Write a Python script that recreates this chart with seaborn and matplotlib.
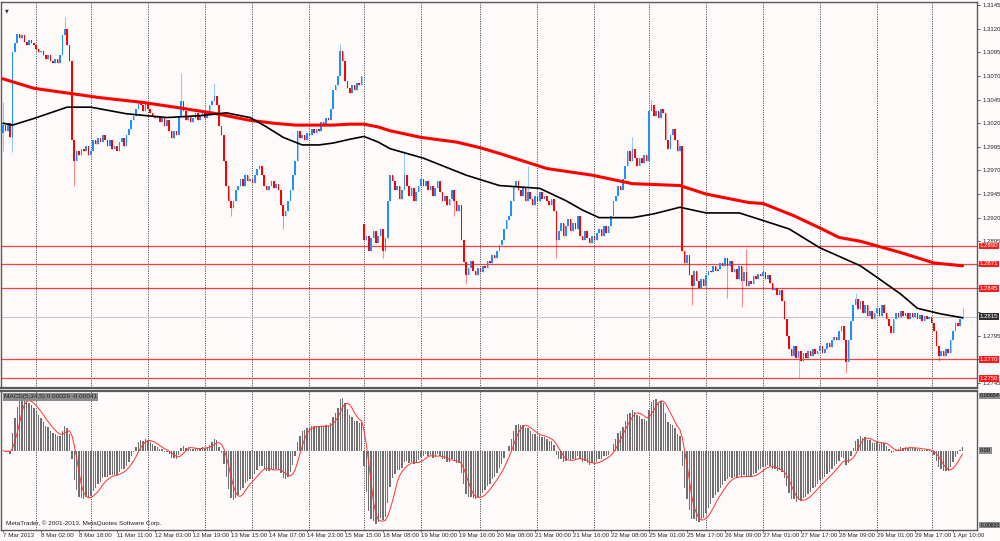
import numpy as np
import pandas as pd
import matplotlib
matplotlib.use("Agg")
import matplotlib.pyplot as plt
import seaborn as sns

# EURUSD H1, closes in pips above BASE (1.2700), one value per bar
BASE = 1.27
CLOSES = [
    318, 312, 320, 305, 395, 405, 415, 410, 413, 406, 403, 408, 405, 403, 399, 395,
    397, 392, 388, 392, 386, 384, 388, 384, 392, 413, 420, 403, 386, 302, 280, 291,
    286, 293, 291, 296, 286, 291, 302, 298, 304, 300, 307, 302, 296, 302, 293, 296,
    291, 300, 304, 296, 307, 314, 323, 328, 335, 344, 339, 333, 341, 335, 331, 328,
    325, 328, 321, 325, 317, 323, 312, 304, 312, 307, 328, 344, 333, 323, 328, 321,
    325, 331, 323, 328, 333, 325, 331, 339, 344, 349, 339, 317, 307, 280, 254, 238,
    230, 238, 249, 254, 261, 254, 265, 259, 261, 257, 265, 272, 275, 265, 254, 249,
    254, 259, 251, 256, 249, 233, 222, 227, 238, 249, 265, 280, 312, 304, 307, 302,
    310, 307, 314, 310, 314, 312, 321, 317, 325, 323, 335, 355, 360, 370, 397, 386,
    365, 357, 352, 360, 355, 363, 360, 370, 196, 201, 185, 198, 206, 193, 201, 208,
    185, 198, 238, 265, 259, 249, 254, 240, 249, 265, 254, 243, 251, 238, 247, 254,
    261, 254, 259, 249, 254, 243, 251, 259, 247, 238, 243, 233, 240, 249, 238, 227,
    233, 196, 173, 159, 167, 174, 164, 159, 167, 162, 169, 167, 174, 172, 180, 177,
    185, 191, 196, 208, 217, 222, 238, 254, 259, 249, 243, 251, 238, 247, 240, 233,
    243, 238, 247, 240, 243, 238, 233, 240, 227, 196, 206, 214, 201, 211, 219, 206,
    214, 208, 222, 201, 196, 206, 198, 193, 201, 196, 204, 208, 201, 211, 204, 211,
    222, 238, 243, 254, 249, 261, 275, 291, 280, 293, 283, 275, 283, 278, 286, 280,
    333, 339, 328, 333, 325, 335, 331, 302, 293, 307, 314, 302, 291, 296, 185, 172,
    180, 159, 148, 164, 153, 145, 155, 148, 159, 164, 162, 169, 164, 166, 172, 169,
    177, 169, 174, 162, 166, 155, 169, 153, 162, 148, 153, 150, 158, 155, 160, 158,
    162, 155, 159, 151, 143, 145, 138, 143, 132, 113, 95, 81, 74, 84, 71, 79,
    68, 77, 71, 79, 74, 81, 76, 79, 84, 77, 81, 87, 83, 90, 94, 90,
    100, 105, 90, 67, 90, 111, 127, 134, 123, 132, 119, 127, 116, 121, 113, 119,
    124, 116, 127, 119, 113, 105, 98, 113, 119, 115, 121, 116, 119, 113, 119, 115,
    119, 113, 117, 111, 116, 113, 115, 108, 100, 84, 74, 79, 73, 81, 77, 90,
    100, 108, 105, 113, 115,
]
FIRST_OPEN = 310
GAP_OPENS = {152: 213}  # weekend gap
SPIKE_HIGHS = {0: 342, 26: 432, 75: 373, 89: 363, 142: 404, 169: 291, 221: 275,
               265: 305, 273: 346, 313: 187, 359: 140, 404: 125}
SPIKE_LOWS = {0: 291, 4: 289, 30: 254, 96: 222, 118: 208, 160: 177, 190: 222,
              195: 150, 233: 177, 290: 127, 305: 135, 311: 125, 335: 50, 355: 56,
              394: 68}

# moving averages read at a few bars (pips above BASE)
RED_MA_BARS = [0, 13, 27, 41, 59, 75, 90, 104, 114, 123, 139, 146, 152, 158, 163, 176, 191,
               201, 209, 229, 248, 265, 285, 296, 314, 320, 333, 344, 352, 361, 378, 392, 404]
RED_MA_PIPS = [367, 357, 352, 347, 342, 336, 330, 323, 320, 318, 318, 319, 319, 316, 312,
               305, 300, 294, 288, 272, 265, 256, 254, 245, 236, 235, 222, 209, 199, 195,
               183, 172, 169]
BLACK_MA_BARS = [0, 4, 13, 27, 37, 52, 69, 83, 94, 104, 111, 118, 126, 133, 139, 146, 152,
                 158, 163, 177, 195, 209, 226, 237, 244, 251, 265, 274, 285, 296, 310, 320,
                 331, 344, 361, 369, 378, 385, 395, 404]
BLACK_MA_PIPS = [320, 318, 325, 337, 337, 330, 326, 328, 331, 326, 316, 305, 297, 297, 299,
                 303, 306, 300, 293, 283, 265, 254, 251, 238, 228, 220, 220, 224, 231, 225,
                 225, 217, 208, 188, 169, 155, 139, 124, 118, 114]

LEVELS = [1.2890, 1.2871, 1.2845, 1.2770, 1.2750]
LAST_PRICE = 1.2815
PRICE_TICKS = [1.2745, 1.2770, 1.2795, 1.2820, 1.2845, 1.2870, 1.2895, 1.2920, 1.2945,
               1.2970, 1.2995, 1.3020, 1.3045, 1.3070, 1.3095, 1.3120, 1.3145]
HIDDEN_TICKS = [1.2770, 1.2820, 1.2845, 1.2870]  # covered by the level boxes
DAY_STARTS = [14, 37, 61, 85, 105, 129, 152, 176, 201, 225, 249, 272, 296, 320, 344, 368, 391]
TIME_LABELS = ["7 Mar 2013", "8 Mar 02:00", "8 Mar 18:00", "11 Mar 11:00", "12 Mar 03:00",
               "12 Mar 19:00", "13 Mar 15:00", "14 Mar 07:00", "14 Mar 23:00", "15 Mar 15:00",
               "18 Mar 08:00", "19 Mar 00:00", "19 Mar 16:00", "20 Mar 08:00", "21 Mar 00:00",
               "21 Mar 16:00", "22 Mar 08:00", "25 Mar 01:00", "25 Mar 17:00", "26 Mar 09:00",
               "27 Mar 01:00", "27 Mar 17:00", "28 Mar 09:00", "29 Mar 01:00", "29 Mar 17:00",
               "1 Apr 10:00"]
MACD_TITLE = "MACD(5,34,5) 0.00029 -0.00041"
MACD_TOP_LABEL = "0.00654"
MACD_BOTTOM_LABEL = "-0.00830"

BG = "#fffafa"
UP = "#1e90ff"
DOWN = "#ff0000"


def build_bars() -> pd.DataFrame:
    df = pd.DataFrame({"bar": np.arange(len(CLOSES)),
                       "close": BASE + np.array(CLOSES) / 1e4})
    df["open"] = df["close"].shift(1)
    df.loc[0, "open"] = BASE + FIRST_OPEN / 1e4
    for k, v in GAP_OPENS.items():
        df.loc[k, "open"] = BASE + v / 1e4
    df["high"] = df[["open", "close"]].max(axis=1)
    df["low"] = df[["open", "close"]].min(axis=1)
    for k, v in SPIKE_HIGHS.items():
        df.loc[k, "high"] = BASE + v / 1e4
    for k, v in SPIKE_LOWS.items():
        df.loc[k, "low"] = BASE + v / 1e4
    # MACD(5,34,5) from the closes, signal = SMA5
    ema_fast = df["close"].ewm(span=5, adjust=False).mean()
    ema_slow = df["close"].ewm(span=34, adjust=False).mean()
    df["macd"] = ema_fast - ema_slow
    df["signal"] = df["macd"].rolling(5, min_periods=1).mean()
    return df


def right_label(ax, y, text, face, color="white", transform=None, size=4.3):
    ax.text(1.003, y, text, transform=transform or ax.get_yaxis_transform(),
            ha="left", va="center", fontsize=size, color=color, clip_on=False,
            bbox=dict(boxstyle="square,pad=0.15", fc=face, ec="none"), zorder=10)


sns.set_theme(style="white")
plt.rcParams["font.family"] = ["Liberation Sans", "DejaVu Sans"]

df = build_bars()
n = len(df)
xlim = (-0.84, 410.1)

fig = plt.figure(figsize=(10, 5.41), dpi=100, facecolor=BG)
ax = fig.add_axes([0.001, 0.283, 0.976, 0.713], facecolor=BG)
ax2 = fig.add_axes([0.001, 0.0205, 0.976, 0.2568], facecolor=BG)

# 1. price panel
for d in DAY_STARTS:
    for a in (ax, ax2):
        a.axvline(d, color="#555555", lw=0.7, ls=(0, (1.2, 1.2)), zorder=1)

for lvl in LEVELS:
    ax.axhline(lvl, color="#ff3b3b", lw=0.9, zorder=2)
ax.axhline(LAST_PRICE, color="#c8c8c8", lw=0.8, zorder=2)

up = df["close"] >= df["open"]
colors = np.where(up, UP, DOWN)
ax.vlines(df["bar"], df["low"], df["high"], colors=colors, lw=0.8, alpha=0.45, zorder=3)
body = (df["close"] - df["open"]).abs().clip(lower=0.00008)
ax.bar(df["bar"], body, bottom=df[["open", "close"]].min(axis=1), width=0.68,
       color=colors, lw=0, zorder=4)

sns.lineplot(x=RED_MA_BARS, y=BASE + np.array(RED_MA_PIPS) / 1e4, ax=ax,
             color="#ff0000", lw=2.2, zorder=5)
sns.lineplot(x=BLACK_MA_BARS, y=BASE + np.array(BLACK_MA_PIPS) / 1e4, ax=ax,
             color="#000000", lw=1.2, zorder=5)

ax.set_xlim(*xlim)
ax.set_ylim(1.27397, 1.31482)
ax.set_xticks([])
ax.yaxis.tick_right()
ax.set_yticks(PRICE_TICKS)
ax.set_yticklabels(["" if t in HIDDEN_TICKS else f"{t:.4f}" for t in PRICE_TICKS],
                   fontsize=4.3)
ax.tick_params(axis="y", length=2.5, width=0.6, pad=1.5, color="#404040")
ax.set_xlabel("")
ax.set_ylabel("")
for lvl in LEVELS:
    right_label(ax, lvl, f"{lvl:.4f}", "#ff1a1a")
right_label(ax, LAST_PRICE, f"{LAST_PRICE:.4f}", "#303030")
ax.text(0.004, 0.985, "\u25bc", transform=ax.transAxes, fontsize=3.5, color="#303030",
        ha="left", va="top", family="DejaVu Sans")

# 2. MACD panel
ax2.bar(df["bar"], df["macd"], width=0.55, color="#6f6f6f", lw=0, zorder=3)
sns.lineplot(x=df["bar"], y=df["signal"], ax=ax2, color="#ff3030", lw=0.7, zorder=4)
ax2.set_xlim(*xlim)
ax2.set_ylim(-0.0087, 0.00654)
ax2.set_yticks([])
ax2.set_xticks(np.arange(0, n, 16))
ax2.set_xticklabels(TIME_LABELS, fontsize=4.4, ha="left")
ax2.tick_params(axis="x", length=1.5, width=0.6, pad=0.5, color="#404040", bottom=True)
ax2.set_xlabel("")
ax2.set_ylabel("")
right_label(ax2, 0.965, MACD_TOP_LABEL, "#8c8c8c", color="black",
            transform=ax2.transAxes, size=3.9)
right_label(ax2, 0.0, "0.00", "#8c8c8c", color="black", size=3.9)
right_label(ax2, 0.035, MACD_BOTTOM_LABEL, "#8c8c8c", color="black",
            transform=ax2.transAxes, size=3.7)
ax2.text(0.003, 0.975, MACD_TITLE, transform=ax2.transAxes, fontsize=4.6, ha="left",
         va="top", bbox=dict(boxstyle="square,pad=0.2", fc="#8a8a8a", ec="none"), zorder=10)
ax2.text(0.005, 0.03, "MetaTrader, \u00a9 2001-2013, MetaQuotes Software Corp.",
         transform=ax2.transAxes, fontsize=4.6, ha="left", va="bottom", color="#202020")

for a in (ax, ax2):
    for s in a.spines.values():
        s.set_color("#5a5a5a")
        s.set_linewidth(1.0)
ax.spines["bottom"].set_linewidth(1.6)
ax2.spines["top"].set_linewidth(1.6)

fig.savefig("out.png", dpi=100, facecolor=BG)
